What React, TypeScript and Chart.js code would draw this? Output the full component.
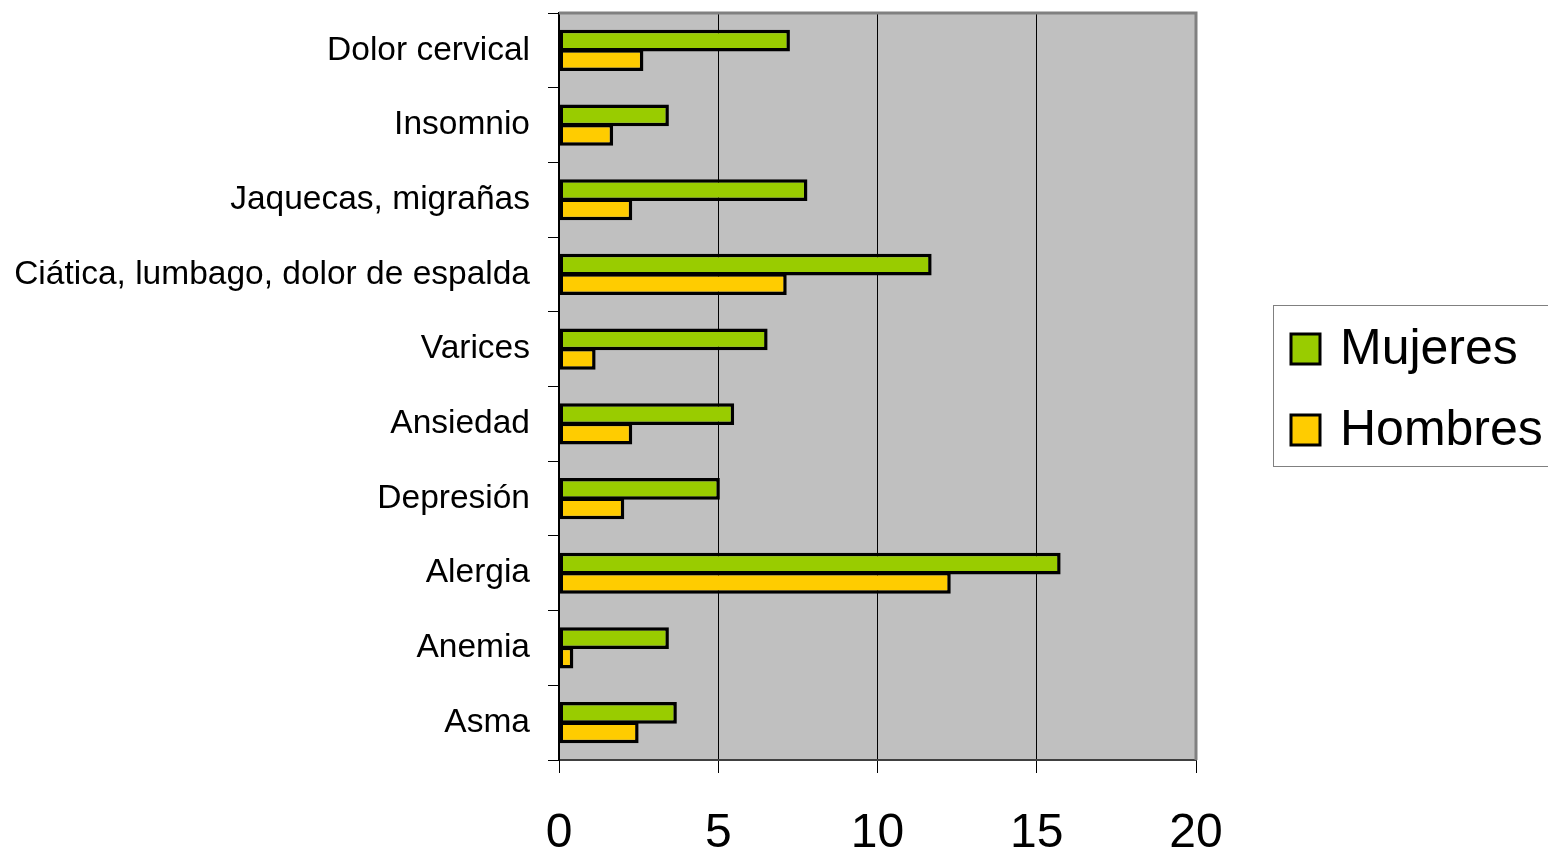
import React, { useEffect, useRef } from "react";
import { Chart, registerables } from "chart.js";

Chart.register(...registerables);

const categories = [
  "Dolor cervical",
  "Insomnio",
  "Jaquecas, migrañas",
  "Ciática, lumbago, dolor de espalda",
  "Varices",
  "Ansiedad",
  "Depresión",
  "Alergia",
  "Anemia",
  "Asma",
];
const mujeres = [7.25, 3.45, 7.8, 11.7, 6.55, 5.5, 5.05, 15.75, 3.45, 3.7];
const hombres = [2.65, 1.7, 2.3, 7.15, 1.15, 2.3, 2.05, 12.3, 0.45, 2.5];
const seriesNames = ["Mujeres", "Hombres"];
const seriesColors = ["#99CC00", "#FFCC00"];
const xTicks = [0, 5, 10, 15, 20];

const FONT = "'Liberation Sans', Arial, sans-serif";

const plotPlugin = {
  id: "plotDecor",
  beforeDraw(chart: any) {
    const { ctx, chartArea } = chart;
    ctx.save();
    ctx.fillStyle = "#C0C0C0";
    ctx.fillRect(chartArea.left, chartArea.top, chartArea.right - chartArea.left, chartArea.bottom - chartArea.top);
    ctx.restore();
  },
  afterDraw(chart: any) {
    const { ctx, chartArea } = chart;
    ctx.save();
    ctx.strokeStyle = "#808080";
    ctx.lineWidth = 3;
    ctx.beginPath();
    ctx.moveTo(chartArea.left, chartArea.top);
    ctx.lineTo(chartArea.right, chartArea.top);
    ctx.lineTo(chartArea.right, chartArea.bottom);
    ctx.stroke();
    const lx = 1273.5;
    const ly = 305.5;
    ctx.strokeStyle = "#808080";
    ctx.lineWidth = 1;
    ctx.strokeRect(lx, ly, 300, 161);
    const rows = [349, 430];
    chart.data.datasets.forEach((ds: any, i: number) => {
      const cy = rows[i];
      ctx.fillStyle = ds.backgroundColor;
      ctx.fillRect(1291, cy - 15, 29, 30);
      ctx.strokeStyle = "#000";
      ctx.lineWidth = 3;
      ctx.strokeRect(1291, cy - 15, 29, 30);
      ctx.fillStyle = "#000";
      ctx.font = `50px ${FONT}`;
      ctx.textBaseline = "middle";
      ctx.textAlign = "left";
      ctx.fillText(ds.label, 1340, cy + 1);
    });
    ctx.restore();
  },
};

export default function App() {
  const ref = useRef<HTMLCanvasElement | null>(null);

  useEffect(() => {
    if (!ref.current) return;
    const chart = new Chart(ref.current, {
      type: "bar",
      data: {
        labels: categories,
        datasets: [
          {
            label: seriesNames[0],
            data: mujeres,
            backgroundColor: seriesColors[0],
            borderColor: "#000",
            borderWidth: 3.5,
            borderSkipped: false,
            categoryPercentage: 0.52,
            barPercentage: 1.12,
          },
          {
            label: seriesNames[1],
            data: hombres,
            backgroundColor: seriesColors[1],
            borderColor: "#000",
            borderWidth: 3.5,
            borderSkipped: false,
            categoryPercentage: 0.52,
            barPercentage: 1.12,
          },
        ],
      },
      options: {
        indexAxis: "y",
        animation: false,
        responsive: false,
        devicePixelRatio: 1,
        layout: { padding: { top: 13, right: 352, left: 0, bottom: 0 } },
        plugins: {
          legend: { display: false },
          tooltip: { enabled: false },
        },
        scales: {
          x: {
            min: 0,
            max: 20,
            afterBuildTicks: (scale: any) => {
              scale.ticks = xTicks.map((v) => ({ value: v }));
            },
            afterFit: (scale: any) => {
              scale.height = 94;
              scale.paddingLeft = 0;
              scale.paddingRight = 0;
              scale.paddingTop = 0;
              scale.paddingBottom = 0;
            },
            grid: {
              drawOnChartArea: true,
              color: (c: any) =>
                c.tick && (c.tick.value === 0 || c.tick.value === 20) ? "rgba(0,0,0,0)" : "#000",
              tickColor: "#000",
              tickLength: 13,
              lineWidth: 1,
            },
            border: { color: "#404040", width: 2 },
            ticks: {
              color: "#000",
              font: { family: FONT, size: 48 },
              padding: 32,
              maxRotation: 0,
            },
          },
          y: {
            afterFit: (scale: any) => {
              scale.width = 559;
              scale.paddingTop = 0;
              scale.paddingBottom = 0;
              scale.paddingLeft = 0;
              scale.paddingRight = 0;
            },
            grid: {
              drawOnChartArea: false,
              tickColor: "#000",
              tickLength: 11,
              offset: true,
            },
            border: { color: "#000", width: 2 },
            ticks: {
              color: "#000",
              font: { family: FONT, size: 33.5 },
              padding: 18,
              autoSkip: false,
            },
          },
        },
      },
      plugins: [plotPlugin],
    } as any);
    return () => chart.destroy();
  }, []);

  return (
    <div style={{ position: "absolute", left: 0, top: 0, width: 1548, height: 854, background: "#fff" }}>
      <canvas ref={ref} width={1548} height={854} style={{ display: "block" }} />
    </div>
  );
}
